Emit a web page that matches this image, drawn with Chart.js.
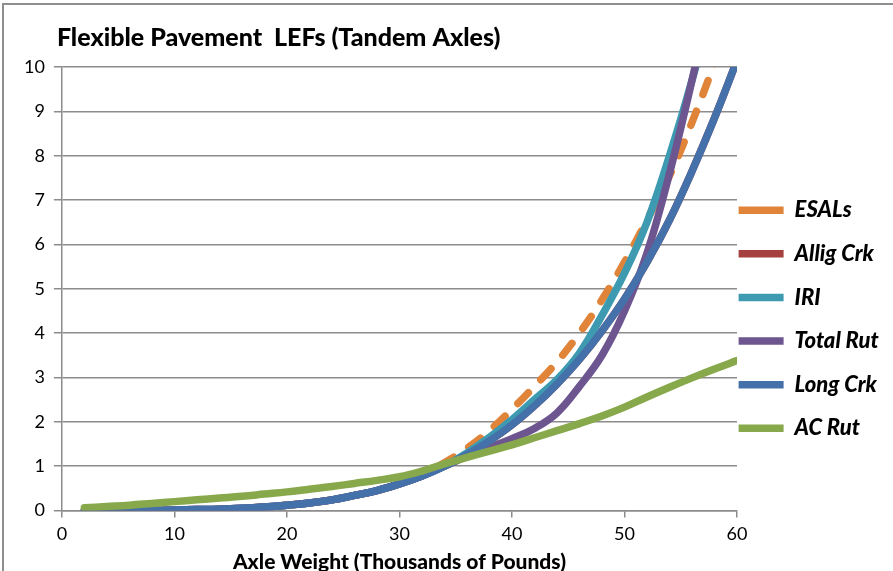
<!DOCTYPE html>
<html>
<head>
<meta charset="utf-8">
<script src="https://cdn.jsdelivr.net/npm/chart.js@4.4.1/dist/chart.umd.min.js"></script>
<style>
  html, body { margin: 0; padding: 0; background: #fff; }
  #frame { position: absolute; left: 2px; top: 3px; width: 891px; height: 568px;
           border-left: 2px solid #8f8f8f; border-top: 2px solid #8f8f8f; }
  #chart { position: absolute; left: 0; top: 0; }
</style>
</head>
<body>
<div id="frame"></div>
<canvas id="chart" width="893" height="571"></canvas>
<script>
// axle weight, thousands of pounds
const axleWeight = [2, 4, 6, 8, 10, 12, 14, 16, 18, 20, 22, 24, 26, 28, 30,
                    32, 34, 36, 38, 40, 42, 44, 46, 48, 50, 52, 54, 56, 58, 60];

const esals     = [0, 0, 0, 0, 0.01, 0.02, 0.03, 0.05, 0.08, 0.12, 0.17, 0.24, 0.34, 0.45, 0.6,
                   0.8, 1.08, 1.4, 1.8, 2.28, 2.8, 3.35, 4.0, 4.75, 5.6, 6.55, 7.55, 8.75, 10.1, 11.6];
const alligCrk  = [0, 0, 0, 0, 0.01, 0.02, 0.03, 0.05, 0.08, 0.12, 0.17, 0.24, 0.34, 0.45, 0.6,
                   0.78, 1.0, 1.26, 1.57, 1.93, 2.36, 2.85, 3.41, 4.05, 4.77, 5.6, 6.55, 7.65, 8.85, 10.15];
const iri       = [0, 0, 0, 0, 0.01, 0.02, 0.03, 0.05, 0.08, 0.12, 0.17, 0.24, 0.34, 0.45, 0.6,
                   0.78, 1.0, 1.3, 1.65, 2.05, 2.5, 2.95, 3.55, 4.4, 5.35, 6.5, 8.0, 9.7, 11.6, 13.8];
const totalRut  = [0, 0, 0, 0, 0.01, 0.02, 0.03, 0.05, 0.08, 0.12, 0.17, 0.24, 0.34, 0.45, 0.6,
                   0.78, 1.0, 1.22, 1.42, 1.62, 1.85, 2.2, 2.8, 3.5, 4.5, 5.8, 7.6, 9.7, 12.0, 14.5];
const longCrk   = [0, 0, 0, 0, 0.01, 0.02, 0.03, 0.05, 0.08, 0.12, 0.17, 0.24, 0.34, 0.45, 0.6,
                   0.78, 1.0, 1.26, 1.57, 1.93, 2.36, 2.85, 3.41, 4.05, 4.77, 5.6, 6.55, 7.65, 8.85, 10.15];
const acRut     = [0.06, 0.09, 0.12, 0.16, 0.2, 0.24, 0.28, 0.32, 0.37, 0.42, 0.48, 0.54, 0.61, 0.68, 0.76,
                   0.89, 1.05, 1.2, 1.34, 1.48, 1.64, 1.8, 1.96, 2.13, 2.33, 2.56, 2.78, 2.99, 3.19, 3.38];

const font = 'Lato, "Liberation Sans", sans-serif';
const gridGray = '#8c8c8c';

function series(label, values, color, dash) {
    return {
        label: label,
        data: axleWeight.map((x, i) => ({ x: x, y: values[i] })),
        borderColor: color,
        backgroundColor: color,
        borderWidth: 7.5,
        borderDash: dash || [],
        borderCapStyle: 'round',
        borderJoinStyle: 'round',
        pointRadius: 0,
        fill: false,
        tension: 0.4,
        clip: 0,
    };
}

// excel draws later series on top, chart.js the other way round
const datasets = [
    series('ESALs', esals, '#e0843a', [15, 18]),
    series('Allig Crk', alligCrk, '#a5403e'),
    series('IRI', iri, '#3d9ab0'),
    series('Total Rut', totalRut, '#6d5690'),
    series('Long Crk', longCrk, '#4571aa'),
    series('AC Rut', acRut, '#87a94b'),
];
datasets.forEach((d, i) => d.order = datasets.length - i);

// legend sits tight against the plot, a bit below centre; title a bit left
const nudgeBoxes = {
    id: 'nudgeBoxes',
    afterLayout(chart) {
        const lg = chart.legend;
        lg.left -= 20;
        lg.top += 30.5; lg.bottom += 30.5;
        const tt = chart.titleBlock;
        tt.left -= 5; tt.right -= 5;
    }
};

new Chart(document.getElementById('chart'), {
    type: 'line',
    data: { datasets: datasets },
    plugins: [nudgeBoxes],
    options: {
        responsive: false,
        animation: false,
        layout: { padding: { left: 15, right: 0, top: 0, bottom: -1.5 } },
        plugins: {
            tooltip: { enabled: false },
            title: {
                display: true,
                text: 'Flexible Pavement  LEFs (Tandem Axles)',
                align: 'start',
                fullSize: false,
                color: '#000',
                font: { family: font, size: 25, weight: '900' },
                padding: { top: 23, bottom: 14 },
            },
            legend: {
                position: 'right',
                fullSize: false,
                align: 'center',
                maxWidth: 156,
                labels: {
                    usePointStyle: true,
                    pointStyle: 'line',
                    pointStyleWidth: 45,
                    padding: 21.6,
                    color: '#000',
                    font: { family: font, size: 22, weight: '900', style: 'italic' },
                    sort: (a, b) => a.datasetIndex - b.datasetIndex,
                },
            },
        },
        scales: {
            x: {
                type: 'linear',
                min: 0,
                max: 60,
                ticks: { stepSize: 10, color: '#000', padding: 8, font: { family: font, size: 18, lineHeight: 1 } },
                grid: { drawOnChartArea: false, drawTicks: true, tickLength: 7, color: gridGray, lineWidth: 1.5 },
                border: { color: gridGray, width: 1.5 },
                title: {
                    display: true,
                    text: 'Axle Weight (Thousands of Pounds)',
                    color: '#000',
                    font: { family: font, size: 21, weight: '900', lineHeight: 1 },
                    padding: { top: 0, bottom: 0 },
                },
            },
            y: {
                min: 0,
                max: 10,
                ticks: { stepSize: 1, color: '#000', padding: 9, font: { family: font, size: 18 } },
                grid: { color: gridGray, lineWidth: 1.5, tickLength: 8 },
                border: { color: gridGray, width: 1.5 },
            },
        },
    },
});
</script>
</body>
</html>
